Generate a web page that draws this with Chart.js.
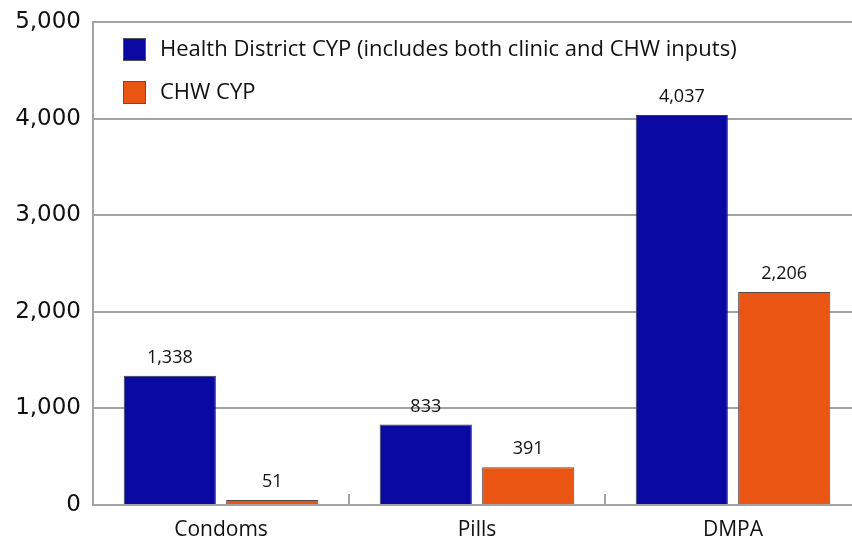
<!DOCTYPE html>
<html lang="en">
<head>
  <meta charset="UTF-8" />
  <title>CYP by method</title>
  <script src="https://cdn.jsdelivr.net/npm/chart.js"></script>
  <style>
    html, body { margin: 0; padding: 0; background: #fff; overflow: hidden; }
    #wrap { width: 862px; height: 536px; }
  </style>
</head>
<body>
  <div id="wrap"><canvas id="cyp" width="862" height="536"></canvas></div>

  <script>
    // data
    const methods = ['Condoms', 'Pills', 'DMPA'];
    const districtCYP = [1338, 833, 4037];
    const chwCYP = [51, 391, 2206];
    const yTicks = [0, 1000, 2000, 3000, 4000, 5000];
    const seriesNames = ['Health District CYP (includes both clinic and CHW inputs)', 'CHW CYP'];

    const BLUE = '#0a0aa2';
    const ORANGE = '#ea5513';
    const GRID = '#a3a3a3';
    const FONT = "'Open Sans', sans-serif";

    const fmt = v => v.toLocaleString('en-US');

    // legend drawn inside the plot, top left
    const insideLegend = {
      id: 'insideLegend',
      afterDraw(chart) {
        const { ctx, chartArea } = chart;
        ctx.save();
        ctx.font = '22px ' + FONT;
        ctx.textBaseline = 'middle';
        chart.data.datasets.forEach((ds, i) => {
          const x = chartArea.left + 30, y = chartArea.top + 16 + i * 43;
          ctx.fillStyle = ds.backgroundColor;
          ctx.fillRect(x, y, 23, 23);
          ctx.strokeStyle = '#555';
          ctx.lineWidth = 1;
          ctx.strokeRect(x + 0.5, y + 0.5, 22, 22);
          ctx.fillStyle = '#111';
          ctx.fillText(ds.label, x + 37, y + 12);
        });
        ctx.restore();
      }
    };

    // value labels above bars + short ticks between categories
    const barLabels = {
      id: 'barLabels',
      afterDatasetsDraw(chart) {
        const { ctx } = chart;
        ctx.save();
        ctx.font = '18px ' + FONT;
        ctx.fillStyle = '#111';
        ctx.textAlign = 'center';
        ctx.textBaseline = 'bottom';
        chart.data.datasets.forEach((ds, i) => {
          chart.getDatasetMeta(i).data.forEach((bar, j) => {
            ctx.fillText(fmt(ds.data[j]), bar.x, bar.y - 9);
          });
        });
        const xs = chart.scales.x, bottom = chart.chartArea.bottom;
        ctx.strokeStyle = GRID;
        ctx.lineWidth = 2;
        for (let i = 0; i < methods.length - 1; i++) {
          const px = (xs.getPixelForValue(i) + xs.getPixelForValue(i + 1)) / 2;
          ctx.beginPath();
          ctx.moveTo(px, bottom);
          ctx.lineTo(px, bottom - 11);
          ctx.stroke();
        }
        ctx.restore();
      }
    };

    new Chart(document.getElementById('cyp'), {
      type: 'bar',
      data: {
        labels: methods,
        datasets: [
          { label: seriesNames[0], data: districtCYP, backgroundColor: BLUE, borderColor: '#3a3a3a', borderWidth: 1 },
          { label: seriesNames[1], data: chwCYP, backgroundColor: ORANGE, borderColor: '#5a4a44', borderWidth: 1 }
        ]
      },
      options: {
        responsive: false,
        animation: false,
        devicePixelRatio: 1,
        layout: { padding: { top: 22, right: 1, left: 0, bottom: 0 } },
        plugins: { legend: { display: false }, tooltip: { enabled: false } },
        scales: {
          x: {
            grid: { display: false },
            border: { display: true, color: GRID, width: 2 },
            ticks: { color: '#111', font: { family: FONT, size: 21 }, padding: 4 },
            afterFit: s => { s.height = 31; }
          },
          y: {
            min: 0, max: 5000,
            afterBuildTicks: s => { s.ticks = yTicks.map(v => ({ value: v })); },
            grid: { color: GRID, lineWidth: 2, drawTicks: false },
            border: { display: true, color: GRID, width: 2 },
            ticks: {
              color: '#111', padding: 12,
              font: { family: "'DejaVu Sans', sans-serif", size: 23 },
              callback: v => fmt(v)
            },
            afterFit: s => { s.width = 93; s.paddingTop = 0; s.paddingBottom = 0; }
          }
        }
      },
      plugins: [insideLegend, barLabels]
    });
  </script>
</body>
</html>
